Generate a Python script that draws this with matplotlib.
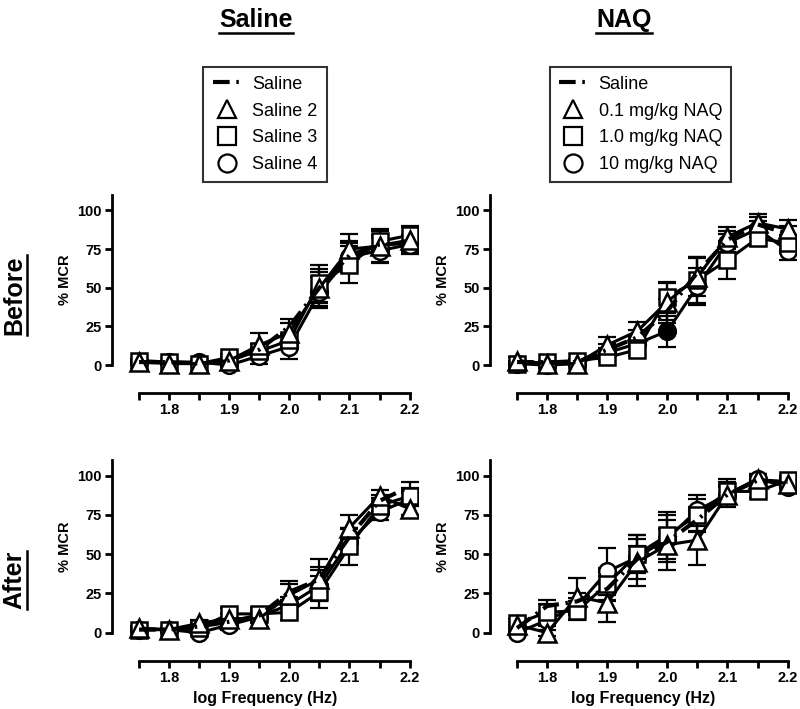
import matplotlib
matplotlib.use("Agg")
import matplotlib.pyplot as plt
from matplotlib.lines import Line2D

plt.rcParams['font.family'] = ['Liberation Sans', 'DejaVu Sans']

freq = [1.75, 1.80, 1.85, 1.90, 1.95, 2.00, 2.05, 2.10, 2.15, 2.20]
xtick_labels = ['', '1.8', '', '1.9', '', '2.0', '', '2.1', '', '2.2']
col_titles = ['Saline', 'NAQ']
row_titles = ['Before', 'After']
legend_left = ['Saline', 'Saline 2', 'Saline 3', 'Saline 4']
legend_right = ['Saline', '0.1 mg/kg NAQ', '1.0 mg/kg NAQ', '10 mg/kg NAQ']

# Before / Saline column
bs_sal = [2, 2, 1, 3, 10, 25, 50, 71, 78, 79]
bs_s2 = [2, 1, 1, 3, 13, 21, 50, 75, 77, 81]
bs_s3 = [3, 2, 1, 5, 9, 16, 53, 65, 80, 84]
bs_s4 = [2, 2, 2, 0, 6, 12, 47, 70, 74, 78]
bs_err = [[1, 1, 1, 2, 4, 5, 10, 8, 6, 5],
          [1, 1, 1, 2, 8, 6, 12, 10, 10, 8],
          [1, 1, 1, 2, 3, 4, 12, 12, 8, 6],
          [1, 1, 1, 1, 5, 8, 10, 10, 8, 6]]

# Before / NAQ column
bn_sal = [2, 2, 2, 10, 18, 35, 60, 81, 91, 85]
bn_01 = [3, 1, 1, 13, 22, 41, 57, 83, 92, 88]
bn_10 = [1, 2, 3, 5, 10, 44, 55, 68, 82, 79]
bn_100 = [1, 0, 1, 8, 14, 22, 51, 79, 88, 74]
bn_err = [[1, 1, 1, 4, 5, 8, 10, 6, 5, 5],
          [2, 1, 1, 5, 6, 12, 12, 6, 6, 6],
          [1, 1, 1, 2, 4, 10, 15, 12, 5, 5],
          [1, 1, 1, 3, 4, 10, 12, 6, 5, 6]]
bn_filled = [5]

# After / Saline column
as_sal = [2, 2, 4, 7, 11, 26, 34, 61, 84, 93]
as_s2 = [3, 2, 6, 9, 9, 24, 34, 67, 87, 79]
as_s3 = [2, 2, 3, 12, 12, 13, 26, 55, 81, 87]
as_s4 = [2, 2, 0, 5, 10, 18, 30, 58, 77, 85]
as_err = [[1, 1, 2, 3, 3, 5, 8, 6, 4, 3],
          [1, 1, 2, 3, 3, 9, 13, 8, 4, 4],
          [1, 1, 2, 4, 4, 5, 10, 12, 5, 5],
          [1, 1, 1, 3, 3, 5, 10, 8, 5, 4]]

# After / NAQ column
an_sal = [3, 17, 20, 28, 47, 58, 72, 88, 97, 96]
an_01 = [5, 0, 23, 19, 45, 56, 59, 88, 98, 95]
an_10 = [6, 13, 14, 31, 50, 62, 75, 90, 90, 97]
an_100 = [0, 8, 17, 39, 48, 60, 78, 88, 98, 93]
an_err = [[2, 4, 5, 8, 8, 8, 8, 5, 3, 3],
          [2, 2, 12, 12, 15, 16, 16, 8, 3, 3],
          [3, 5, 6, 10, 12, 15, 10, 8, 4, 3],
          [1, 4, 5, 15, 14, 15, 10, 6, 3, 4]]

panels = [
    ([bs_sal, bs_s2, bs_s3, bs_s4], bs_err, []),
    ([bn_sal, bn_01, bn_10, bn_100], bn_err, bn_filled),
    ([as_sal, as_s2, as_s3, as_s4], as_err, []),
    ([an_sal, an_01, an_10, an_100], an_err, []),
]

W, H = 800, 709
fig = plt.figure(figsize=(W / 100, H / 100), dpi=100)

boxes = [
    [112 / W, 316 / H, 306 / W, 198 / H],
    [490 / W, 316 / H, 306 / W, 198 / H],
    [112 / W, 48 / H, 306 / W, 201 / H],
    [490 / W, 48 / H, 306 / W, 201 / H],
]

markers = [None, '^', 's', 'o']
msizes = [None, 13, 11.5, 12]
saline_dash = [4, 1.6, 0.6, 1.6]

for i, (series, errs, filled) in enumerate(panels):
    ax = fig.add_axes(boxes[i])
    for k in [3, 2, 1, 0]:
        ax.errorbar(freq, series[k], yerr=errs[k], fmt='none', ecolor='black',
                    elinewidth=1.6, capsize=6.5, capthick=1.6, zorder=2)
    # circles lowest, triangles on top
    for k in [3, 2, 1]:
        ax.plot(freq, series[k], color='black', lw=2.2, marker=markers[k],
                markersize=msizes[k], markerfacecolor='white',
                markeredgecolor='black', markeredgewidth=1.8, zorder=7 - k)
    ax.plot(freq, series[0], color='black', lw=3, dashes=saline_dash,
            zorder=8)
    for j in filled:
        ax.plot(freq[j], series[3][j], marker='o', markersize=12,
                color='black', zorder=9)

    ax.set_xlim(1.705, 2.214)
    ax.set_ylim(-18, 110)
    ax.spines['top'].set_visible(False)
    ax.spines['right'].set_visible(False)
    ax.spines['left'].set_bounds(0, 110)
    ax.spines['bottom'].set_bounds(1.75, 2.2)
    ax.spines['left'].set_linewidth(2)
    ax.spines['bottom'].set_linewidth(2)
    ax.set_xticks(freq)
    ax.set_xticklabels(xtick_labels)
    ax.set_yticks([0, 25, 50, 75, 100])
    ax.tick_params(width=2, length=5, labelsize=10.5, pad=2.5)
    for lab in ax.get_xticklabels() + ax.get_yticklabels():
        lab.set_fontweight('bold')
    ax.set_ylabel('% MCR', fontsize=10.5, fontweight='bold')
    ax.yaxis.set_label_coords(-0.13, (55 + 18) / 128)
    if i >= 2:
        ax.set_xlabel('log Frequency (Hz)', fontsize=11.5, fontweight='bold',
                      labelpad=4)

# legends
def make_handles():
    hs = [Line2D([], [], color='black', lw=3, dashes=saline_dash)]
    for m in markers[1:]:
        hs.append(Line2D([], [], ls='none', marker=m, markersize=13,
                         markerfacecolor='white', markeredgecolor='black',
                         markeredgewidth=1.6))
    return hs

for labels, cx in [(legend_left, 265 / W), (legend_right, 640.5 / W)]:
    leg = fig.legend(make_handles(), labels, loc='center',
                     bbox_to_anchor=(cx, 1 - 124.5 / H), fontsize=13,
                     frameon=True, fancybox=False, edgecolor='black',
                     handlelength=1.6, handletextpad=0.6,
                     labelspacing=0.55, borderpad=0.5)
    leg.get_frame().set_linewidth(1.5)

# column and row titles with underlines
title_texts = []
for name, cx in zip(col_titles, [256 / W, 624 / W]):
    t = fig.text(cx, 1 - 20 / H, name, ha='center', va='center',
                 fontsize=18, fontweight='bold')
    title_texts.append((t, 'h'))
for name, cy in zip(row_titles, [1 - 295 / H, 1 - 580 / H]):
    t = fig.text(14 / W, cy, name, ha='center', va='center', rotation=90,
                 fontsize=18, fontweight='bold')
    title_texts.append((t, 'v'))

fig.canvas.draw()
r = fig.canvas.get_renderer()
for t, d in title_texts:
    bb = t.get_window_extent(r)
    if d == 'h':
        y = (bb.y0 - 1) / H
        fig.add_artist(Line2D([bb.x0 / W, bb.x1 / W], [y, y], color='black',
                              lw=1.8, transform=fig.transFigure))
    else:
        x = (bb.x1 + 1) / W
        fig.add_artist(Line2D([x, x], [bb.y0 / H, bb.y1 / H], color='black',
                              lw=1.8, transform=fig.transFigure))

fig.savefig('out.png', dpi=100)
